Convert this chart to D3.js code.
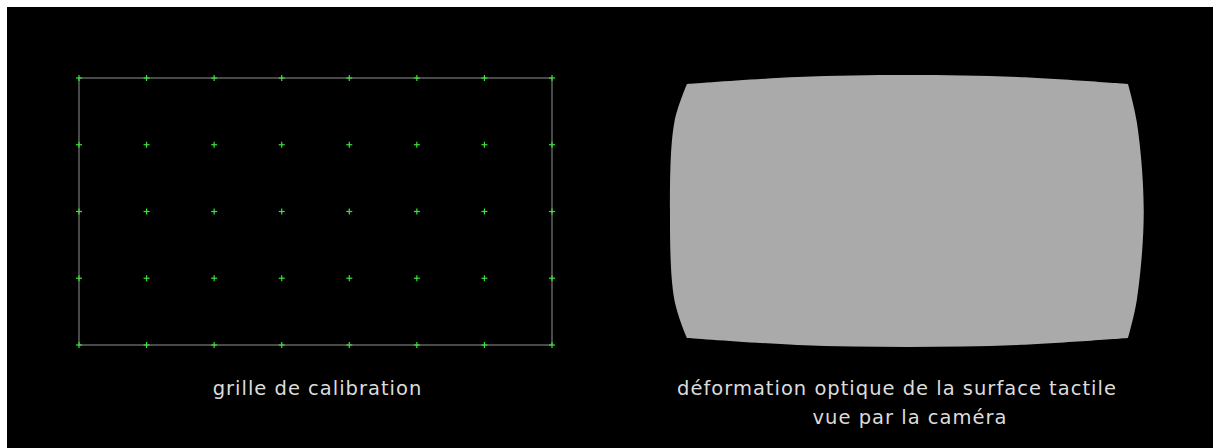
<!DOCTYPE html>
<html>
<head>
<meta charset="utf-8">
<script src="https://cdn.jsdelivr.net/npm/d3@7"></script>
<style>
  html, body { margin: 0; padding: 0; background: #fff; }
  svg { display: block; }
</style>
</head>
<body>
<svg id="chart" width="1213" height="448"></svg>
<script>
// calibration grid: 8 columns x 5 rows of points
const gridCols = [0, 1, 2, 3, 4, 5, 6, 7]
const gridRows = [0, 1, 2, 3, 4]

// outline of the camera view, in grid units (col, row)
const edgeTop = [[0, 0], [1.75, -0.11], [3.5, -0.14], [5.25, -0.11], [7, 0]]
const edgeRight = [[7, 0], [7.14, 0.6], [7.25, 2], [7.14, 3.4], [7, 4]]
const edgeBottom = [[7, 4], [5.25, 4.11], [3.5, 4.14], [1.75, 4.11], [0, 4]]
const edgeLeft = [[0, 4], [-0.2, 3.4], [-0.27, 2], [-0.2, 0.6], [0, 0]]

const leftLabel = ['grille de calibration']
const rightLabel = ['déformation optique de la surface tactile', 'vue par la caméra']

const svg = d3.select('#chart')

svg.append('rect')
    .attr('x', 7)
    .attr('y', 7)
    .attr('width', 1213 - 7)
    .attr('height', 448 - 7)
    .attr('fill', '#000')

// left panel
const gx = d3.scaleLinear().domain([0, 7]).range([79, 552])
const gy = d3.scaleLinear().domain([0, 4]).range([78, 345])

svg.append('rect')
    .attr('x', gx(0))
    .attr('y', gy(0))
    .attr('width', gx(7) - gx(0))
    .attr('height', gy(4) - gy(0))
    .attr('fill', 'none')
    .attr('stroke', '#7a7a7a')
    .attr('stroke-width', 1.2)

const pts = []
gridRows.forEach(r => gridCols.forEach(c => pts.push([c, r])))

const cross = svg.append('g')
    .attr('stroke', '#3be33b')
    .attr('stroke-width', 1.2)
    .selectAll('g')
    .data(pts)
    .join('g')
    .attr('transform', d => `translate(${gx(d[0])},${gy(d[1])})`)

cross.append('line').attr('x1', -3).attr('x2', 3).attr('y1', 0).attr('y2', 0)
cross.append('line').attr('y1', -3).attr('y2', 3).attr('x1', 0).attr('x2', 0)

// right panel
const rx = d3.scaleLinear().domain([0, 7]).range([687, 1128])
const ry = d3.scaleLinear().domain([0, 4]).range([84, 338])

const edgeLine = d3.line()
    .x(d => rx(d[0]))
    .y(d => ry(d[1]))
    .curve(d3.curveCatmullRom)

const outline = [edgeTop, edgeRight, edgeBottom, edgeLeft]
    .map((e, i) => i === 0 ? edgeLine(e) : edgeLine(e).replace(/^M/, 'L'))
    .join('') + 'Z'

svg.append('path')
    .attr('d', outline)
    .attr('fill', '#aaaaaa')

// labels
const font = '"DejaVu Sans", Verdana, sans-serif'

svg.append('text')
    .attr('x', 317.5)
    .attr('y', 395)
    .attr('text-anchor', 'middle')
    .attr('font-family', font)
    .attr('font-size', 19.5)
    .attr('letter-spacing', 1)
    .attr('fill', '#dcdcdc')
    .text(leftLabel[0])

svg.selectAll('text.right')
    .data(rightLabel)
    .join('text')
    .attr('class', 'right')
    .attr('x', (d, i) => i === 0 ? 897 : 910)
    .attr('y', (d, i) => 395 + i * 29)
    .attr('text-anchor', 'middle')
    .attr('font-family', font)
    .attr('font-size', 19.5)
    .attr('letter-spacing', 1)
    .attr('fill', '#dcdcdc')
    .text(d => d)
</script>
</body>
</html>
